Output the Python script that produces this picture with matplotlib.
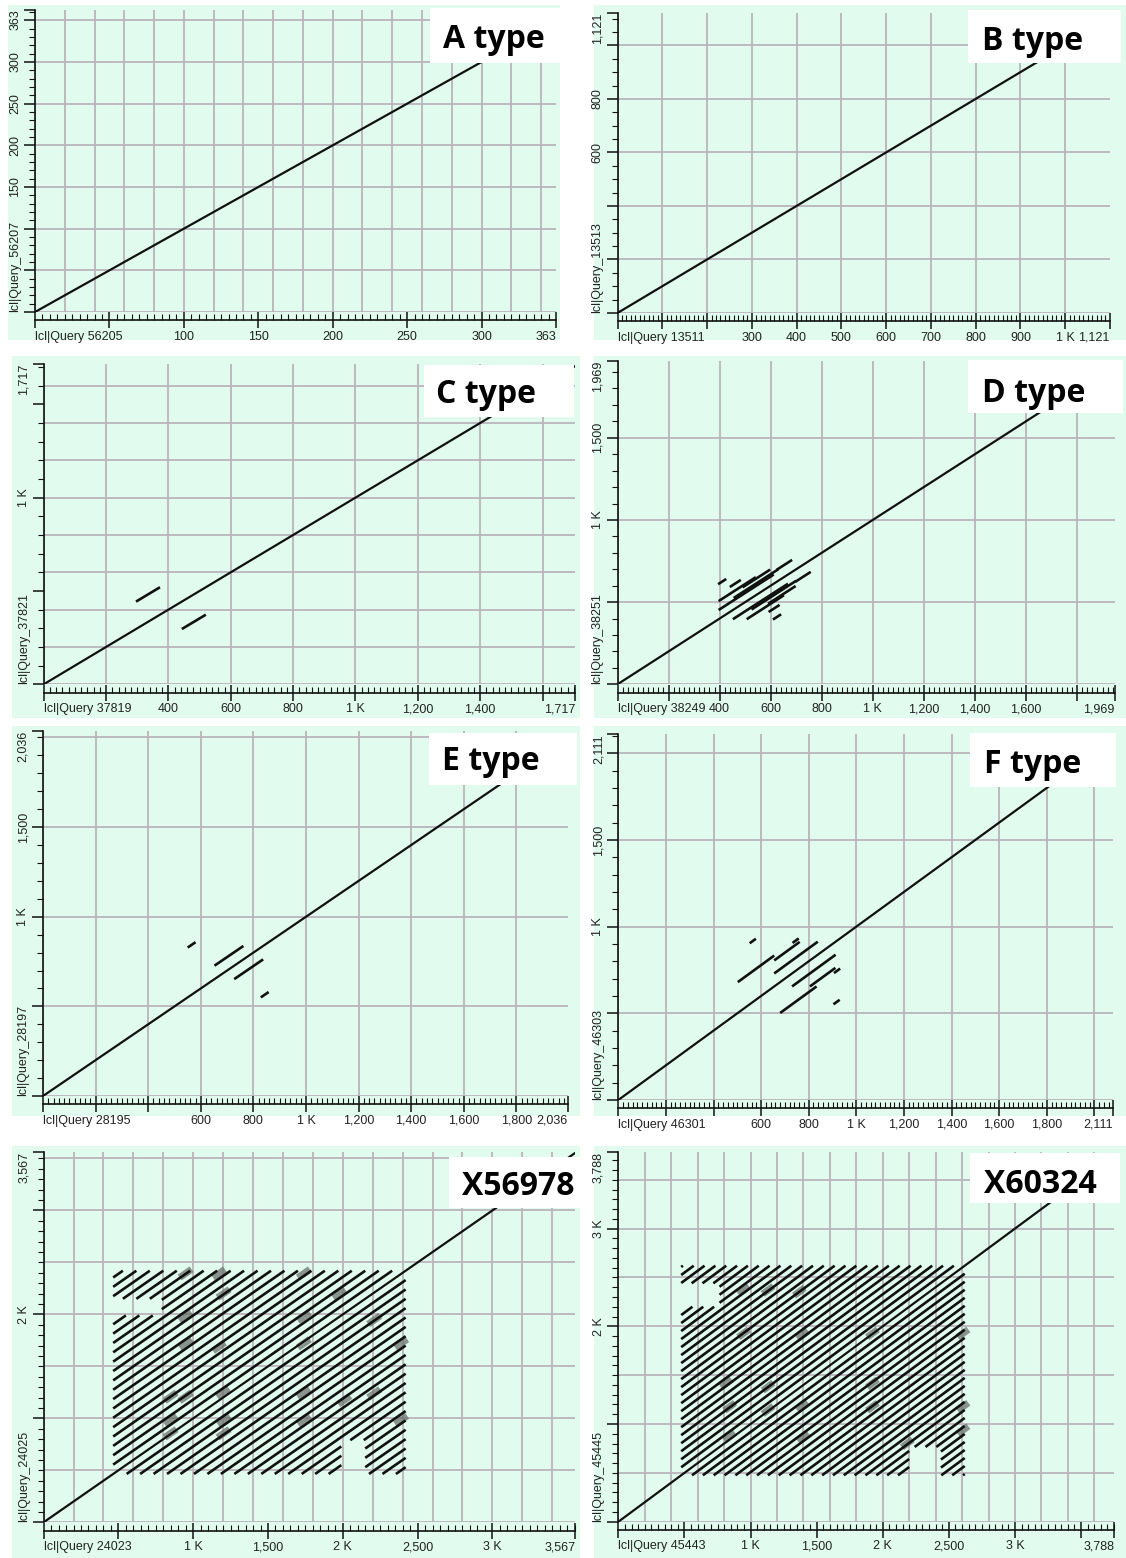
import matplotlib
matplotlib.use("Agg")
from matplotlib import pyplot as plt
from matplotlib import font_manager
from matplotlib.patches import Rectangle
from matplotlib.collections import LineCollection

W, H = 1126, 1558
BG = "#e1fcef"
GRID = "#bab4bc"
INK = "#111111"

# ---------------- data ----------------
titles = ["A type", "B type", "C type", "D type", "E type", "F type", "X56978", "X60324"]
x_names = ["lcl|Query 56205", "lcl|Query 13511", "lcl|Query 37819", "lcl|Query 38249",
           "lcl|Query 28195", "lcl|Query 46301", "lcl|Query 24023", "lcl|Query 45443"]
y_names = ["lcl|Query_56207", "lcl|Query_13513", "lcl|Query_37821", "lcl|Query_38251",
           "lcl|Query_28197", "lcl|Query_46303", "lcl|Query_24025", "lcl|Query_45445"]
seq_len = [363, 1121, 1717, 1969, 2036, 2111, 3567, 3788]

x_labeled = [
    [100, 150, 200, 250, 300],
    [300, 400, 500, 600, 700, 800, 900, 1000],
    [400, 600, 800, 1000, 1200, 1400],
    [400, 600, 800, 1000, 1200, 1400, 1600],
    [600, 800, 1000, 1200, 1400, 1600, 1800],
    [600, 800, 1000, 1200, 1400, 1600, 1800],
    [1000, 1500, 2000, 2500, 3000],
    [1000, 1500, 2000, 2500, 3000],
]
y_labeled = [
    [150, 200, 250, 300],
    [600, 800],
    [1000],
    [1000, 1500],
    [1000, 1500],
    [1000, 1500],
    [2000],
    [2000, 3000],
]

# off-diagonal hits, upper side of the diagonal (x0, y0, x1, y1); mirrored below
hits_c = [(296, 443, 373, 520)]
hits_d = [(394, 609, 426, 641), (440, 592, 483, 635), (396, 506, 542, 652),
          (490, 590, 598, 698), (623, 696, 684, 757), (396, 452, 612, 668),
          (455, 525, 630, 700)]
hits_e = [(550, 828, 580, 858), (652, 727, 762, 837)]
hits_f = [(552, 904, 578, 930), (502, 680, 655, 833), (655, 805, 762, 912),
          (732, 906, 758, 932), (655, 730, 838, 913)]
hits = [[], [], hits_c, hits_d, hits_e, hits_f, [], []]

# tandem-repeat blocks: square span, diagonal offsets of the repeat copies,
# empty patches (x0, x1, y0, y1) above the diagonal (mirrored below)
block_span = {6: (465, 2420), 7: (475, 2620)}
block_offsets = {
    6: [90, 180, 270, 360, 450, 540, 630, 720, 810, 900, 990, 1080, 1170, 1260,
        1350, 1440, 1530, 1620, 1710, 1800, 1890],
    7: [82, 164, 246, 328, 410, 492, 574, 656, 738, 820, 902, 984, 1066, 1148,
        1230, 1312, 1394, 1476, 1558, 1640, 1722, 1804, 1886, 1968, 2050, 2132],
}
block_gaps = {6: [(465, 790, 1990, 2150)], 7: [(475, 765, 2200, 2440)]}
# dense grey clumps inside the blocks (x, y)
clumps = {
    6: [(949, 2394), (1172, 2394), (1740, 2394), (1203, 2201), (1975, 2201),
        (949, 1978), (1740, 1978), (2210, 1946), (949, 1721), (1172, 1689),
        (1740, 1721), (2390, 1721), (849, 1208), (949, 1208), (1203, 1240),
        (1740, 1240), (2010, 1176), (2210, 1240), (849, 984), (1203, 984),
        (1740, 984), (2390, 984), (849, 856), (1203, 856)],
    7: [(947, 2371), (1132, 2371), (1369, 2354), (947, 1928), (1395, 1911),
        (1922, 1928), (2607, 1928), (816, 1416), (1132, 1382), (1922, 1416),
        (842, 1177), (1132, 1143), (1395, 1177), (1922, 1177), (2607, 1177),
        (842, 870), (1395, 870), (2185, 802), (2607, 938)],
}

# ---------------- layout (pixels) ----------------
layout = [
    dict(o=(35, 312), e=(556, 9.5), xend=350, bg=(8, 5, 560, 340), tb=(430, 8, 560, 63), ta=(494, 48),
         grid=(20, 50), major=(50, 50), minor=(5, 10)),
    dict(o=(617.5, 313), e=(1109.5, 13), xend=1099, bg=(594, 5, 1126, 340), tb=(968, 10, 1121, 63), ta=(1033, 50),
         grid=(100, 200), major=(100, 200), minor=(10, 50)),
    dict(o=(43.7, 684.3), e=(575.3, 363.8), xend=1705, bg=(12, 356, 580, 718), tb=(424, 365, 574, 417), ta=(486, 403),
         grid=(200, 200), major=(200, 500), minor=(20, 100)),
    dict(o=(617.5, 684.3), e=(1114.5, 360.7), xend=1947, bg=(594, 356, 1126, 718), tb=(968, 360, 1123, 413), ta=(1034, 402),
         grid=(200, 500), major=(200, 500), minor=(20, 100)),
    dict(o=(43, 1096), e=(568, 731), xend=1996, bg=(12, 726, 580, 1116), tb=(429, 733, 577, 785), ta=(491, 770),
         grid=(200, 500), major=(200, 500), minor=(20, 100)),
    dict(o=(618.3, 1100), e=(1112.7, 734), xend=2077, bg=(594, 726, 1126, 1116), tb=(970, 733, 1116, 787), ta=(1033, 773),
         grid=(200, 500), major=(200, 500), minor=(20, 100)),
    dict(o=(43.6, 1522.3), e=(575.3, 1151.5), xend=3554, bg=(12, 1146, 580, 1558), tb=(449, 1157, 580, 1208), ta=(518, 1195),
         grid=(200, 500), major=(500, 1000), minor=(50, 100)),
    dict(o=(618.4, 1521.7), e=(1114.5, 1151.6), xend=3753, bg=(594, 1146, 1126, 1558), tb=(970, 1153, 1120, 1203), ta=(1040, 1193),
         grid=(200, 500), major=(500, 1000), minor=(50, 100)),
]


def installed(name, min_weight=0):
    for f in font_manager.fontManager.ttflist:
        w = f.weight
        if isinstance(w, str):
            w = font_manager.weight_dict.get(w, 400)
        if f.name == name and w >= min_weight:
            return True
    return False


TITLE_FONT = next((n for n in ["Open Sans", "Noto Sans", "Lato", "Roboto", "Liberation Sans"]
                   if installed(n, 700)), "DejaVu Sans")
if installed("Liberation Sans Narrow"):
    TICK_FONT, TICK_SIZE = "Liberation Sans Narrow", 10.5
else:
    TICK_FONT, TICK_SIZE = "Liberation Sans", 9


def fmt(v):
    if v % 1000 == 0:
        return f"{v // 1000} K"
    return f"{v:,}"


def fig_box(x0, y0, x1, y1):
    return (x0 / W, 1 - y1 / H), (x1 - x0) / W, (y1 - y0) / H


def steps(step, end):
    return list(range(0, int(end) + 1, step))


def cut(x0, x1, d, gaps):
    # pieces of the diagonal y = x + d on [x0, x1] that avoid the gap boxes
    pieces = [(x0, x1)]
    for gx0, gx1, gy0, gy1 in gaps:
        lo, hi = max(gx0, gy0 - d), min(gx1, gy1 - d)
        if lo >= hi:
            continue
        out = []
        for a, b in pieces:
            if hi <= a or lo >= b:
                out.append((a, b))
                continue
            if lo > a:
                out.append((a, lo))
            if hi < b:
                out.append((hi, b))
        pieces = out
    return pieces


def draw_panel(fig, i):
    lay = layout[i]
    L = seq_len[i]
    xend = lay["xend"]
    (ox, oy), (ex, ey) = lay["o"], lay["e"]

    xy, w, h = fig_box(*lay["bg"])
    fig.add_artist(Rectangle(xy, w, h, transform=fig.transFigure, fc=BG, ec="none", zorder=-5))

    ax = fig.add_axes([ox / W, 1 - oy / H, (ex - ox) / W, (oy - ey) / H])
    ax.set_facecolor(BG)
    ax.set_xlim(0, xend)
    ax.set_ylim(0, L)
    for s in ("top", "right"):
        ax.spines[s].set_visible(False)
    ax.spines["bottom"].set_position(("outward", 6))
    for s in ("bottom", "left"):
        ax.spines[s].set_linewidth(1.2)
        ax.spines[s].set_color(INK)

    gx, gy = lay["grid"]
    for v in steps(gx, xend):
        ax.axvline(v, color=GRID, lw=1.3, zorder=1)
    for v in steps(gy, L):
        ax.axhline(v, color=GRID, lw=1.3, zorder=1)

    mx, my = lay["major"]
    nx, ny = lay["minor"]
    xt = [v for v in steps(mx, xend) if xend - v > mx * 0.25] + [xend]
    xl = [x_names[i] if v == 0 else (fmt(v) if v in x_labeled[i] else "") for v in xt[:-1]] + [fmt(L)]
    ax.set_xticks(xt, xl)
    ax.set_xticks(steps(nx, xend), minor=True)
    yt = [v for v in steps(my, L) if L - v > my * 0.15] + [L]
    yl = [y_names[i] if v == 0 else (fmt(v) if v in y_labeled[i] else "") for v in yt[:-1]] + [fmt(L)]
    ax.set_yticks(yt, yl)
    ax.set_yticks(steps(ny, L), minor=True)

    ax.tick_params(axis="x", which="major", direction="inout", length=11, width=1.1,
                   pad=2, labelsize=TICK_SIZE, colors=INK)
    ax.tick_params(axis="x", which="minor", direction="in", length=4, width=0.8, colors=INK)
    ax.tick_params(axis="y", which="major", direction="out", length=8, width=1.1,
                   pad=2, labelsize=TICK_SIZE, colors=INK)
    ax.tick_params(axis="y", which="minor", direction="out", length=4, width=0.8, colors=INK)

    xlabs = ax.get_xticklabels()
    xlabs[0].set_ha("left")
    xlabs[-1].set_ha("right")
    for t in ax.get_yticklabels():
        t.set_rotation(90)
        t.set_va("center")
    ylabs = ax.get_yticklabels()
    ylabs[0].set_va("bottom")
    ylabs[-1].set_va("top")
    for t in xlabs + ylabs:
        t.set_fontfamily([TICK_FONT, "DejaVu Sans"])
        t.set_color("#222222")

    # main diagonal
    ax.plot([0, L], [0, L], color=INK, lw=1.6, zorder=3, solid_capstyle="butt")

    segs = []
    for (x0, y0, x1, y1) in hits[i]:
        segs.append([(x0, y0), (x1, y1)])
        segs.append([(y0, x0), (y1, x1)])
    if i in block_span:
        a, b = block_span[i]
        gaps = block_gaps[i]
        mirrored = [(g[2], g[3], g[0], g[1]) for g in gaps]
        for d in block_offsets[i]:
            for dd in (d, -d):
                x0 = max(a, a - dd)
                x1 = min(b, b - dd)
                if x1 <= x0:
                    continue
                for p, q in cut(x0, x1, dd, gaps + mirrored):
                    if q - p > 8:
                        segs.append([(p, p + dd), (q, q + dd)])
        # grey clumps where neighbouring hits merge
        r = 40
        smears = [[(cx - r, cy - r), (cx + r, cy + r)] for cx, cy in clumps[i]]
        ax.add_collection(LineCollection(smears, colors="#6b716d", linewidths=5,
                                         alpha=0.75, zorder=2.5, capstyle="butt"))
    if segs:
        ax.add_collection(LineCollection(segs, colors=INK, linewidths=1.9, zorder=3,
                                         capstyle="butt"))

    xy, w, h = fig_box(*lay["tb"])
    fig.add_artist(Rectangle(xy, w, h, transform=fig.transFigure, fc="white", ec="none", zorder=10))
    tx, ty = lay["ta"]
    fig.text(tx / W, 1 - ty / H, titles[i], ha="center", va="baseline", fontsize=23,
             fontweight="bold", family=[TITLE_FONT, "DejaVu Sans"], color="black", zorder=11)


fig = plt.figure(figsize=(W / 100, H / 100), dpi=100)
fig.patch.set_facecolor("white")
for i in range(8):
    draw_panel(fig, i)
fig.savefig("out.png", dpi=100, facecolor="white")
